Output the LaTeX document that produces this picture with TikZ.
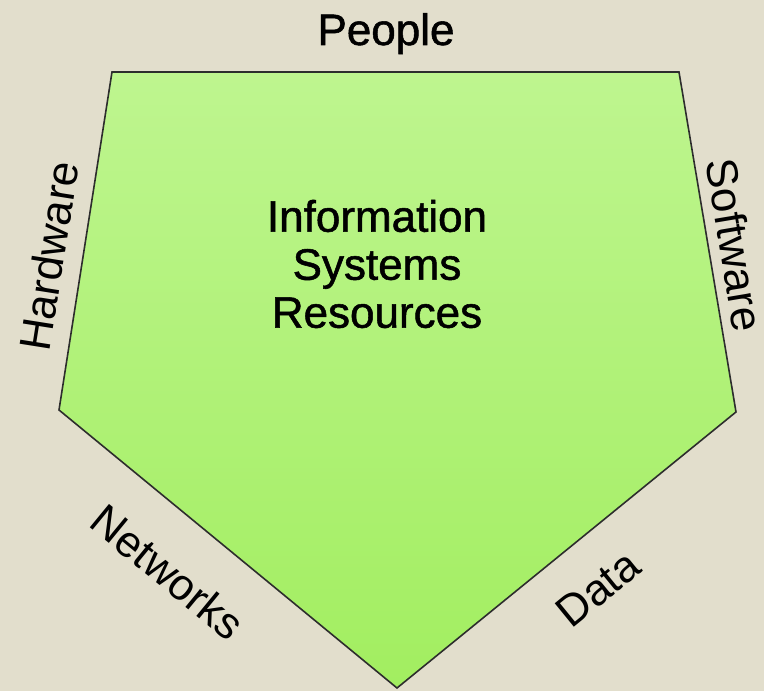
\documentclass[tikz,border=0pt]{standalone}
\usepackage{fontspec}
\setmainfont{Liberation Sans}
\newfontfamily\heavysans[FakeBold=1.2]{Liberation Sans}
\definecolor{bgbeige}{RGB}{226,222,204}
\definecolor{greentop}{RGB}{190,245,143}
\definecolor{greenbot}{RGB}{162,238,96}
\definecolor{edgegray}{RGB}{45,45,45}
\begin{document}
\begin{tikzpicture}[x=1pt,y=1pt,
  lbl/.style={inner sep=0pt,font=\fontsize{44}{48}\selectfont,text=black},
  heavylbl/.style={inner sep=0pt,font=\heavysans\fontsize{44}{48}\selectfont,text=black},
  pent/.style={draw=edgegray,line width=1.6pt,line join=miter,top color=greentop,bottom color=greenbot}]
\fill[bgbeige] (0,0) rectangle (764,691);
\useasboundingbox (0,0) rectangle (764,691);
\coordinate (A) at (112,619);
\coordinate (B) at (679,619);
\coordinate (C) at (736,279);
\coordinate (D) at (397,3);
\coordinate (E) at (59,281);
\path[pent] (A) -- (B) -- (C) -- (D) -- (E) -- cycle;
\node[heavylbl,anchor=base] (people) at (386,646) {People};
\node[heavylbl,align=center] (center) at (377,427) {Information\\Systems\\Resources};
\node[lbl,rotate=81] (hardware) at (49,435) {Hardware};
\node[lbl,rotate=-80.5] (software) at (735,446) {Software};
\node[lbl,rotate=-39.4] (networks) at (168,119) {Networks};
\node[lbl,rotate=39.2] (data) at (598,102) {Data};
\end{tikzpicture}
\end{document}
